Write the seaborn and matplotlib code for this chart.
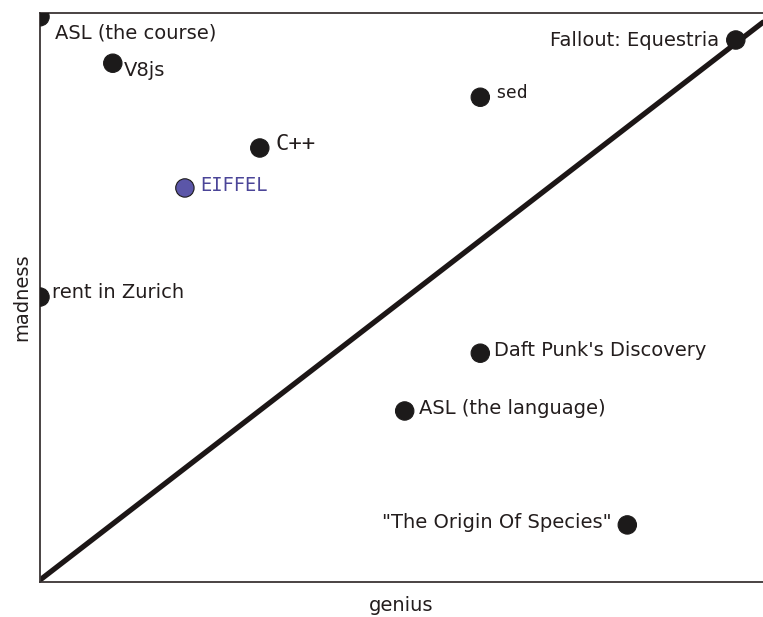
import pandas as pd
import matplotlib.pyplot as plt
import seaborn as sns

names = ['ASL (the course)', 'V8js', 'sed', 'C++', 'EIFFEL', 'rent in Zurich',
         "Daft Punk's Discovery", 'ASL (the language)', '"The Origin Of Species"',
         'Fallout: Equestria']
genius = [0.0, 0.104, 0.629, 0.314, 0.207, 0.0, 0.629, 0.521, 0.839, 0.994]
madness = [1.043, 0.957, 0.894, 0.800, 0.726, 0.524, 0.420, 0.313, 0.102, 1.0]

df = pd.DataFrame({'name': names, 'genius': genius, 'madness': madness})
df['group'] = ['blue' if n == 'EIFFEL' else 'black' for n in names]

sns.set_theme(style="white")
plt.rcParams['font.family'] = ['DejaVu Sans']

fig = plt.figure(figsize=(7.63, 6.17), dpi=100)
ax = fig.add_axes([40 / 763, 35 / 617, 723 / 763, 569 / 617])
ax.set_xlim(0, 723 / 700)
ax.set_ylim(-2 / 540, 567 / 540)

ax.axline((0, 0), slope=1, color='#1c1616', lw=3.8, zorder=2)

sns.scatterplot(data=df, x='genius', y='madness', hue='group',
                palette={'black': '#1c1a1a', 'blue': '#5b56a8'},
                edgecolor='#1c1a1a', linewidth=0.8, s=175, legend=False,
                ax=ax, zorder=3)

# label offsets in points (dx, dy, ha)
offsets = {
    'ASL (the course)': (11, -12, 'left'),
    'V8js': (8, -5, 'left'),
    'sed': (11, 3, 'left'),
    'C++': (11, 3, 'left'),
    'EIFFEL': (11, 2, 'left'),
    'rent in Zurich': (9, 3, 'left'),
    "Daft Punk's Discovery": (10, 2, 'left'),
    'ASL (the language)': (10, 2, 'left'),
    '"The Origin Of Species"': (-11, 2, 'right'),
    'Fallout: Equestria': (-12, 0, 'right'),
}
for _, r in df.iterrows():
    dx, dy, ha = offsets[r['name']]
    kw = dict(fontsize=14, color='#231d1d')
    if r['name'] == 'sed':
        kw['family'] = 'DejaVu Sans Mono'
        kw['fontsize'] = 13
    if r['name'] == 'C++':
        kw['family'] = 'DejaVu Sans Mono'
        kw['fontsize'] = 16
    if r['name'] == 'EIFFEL':
        kw['color'] = '#4b4598'
        kw['family'] = 'DejaVu Sans Mono'
        kw['fontsize'] = 13.5
    ax.annotate(r['name'], (r['genius'], r['madness']), xytext=(dx, dy),
                textcoords='offset points', ha=ha, va='center', **kw)

ax.set_xticks([])
ax.set_yticks([])
ax.set_xlabel('genius', fontsize=14, color='#231d1d', labelpad=10)
ax.set_ylabel('madness', fontsize=14, color='#231d1d', labelpad=6)
for side in ['left', 'bottom', 'top']:
    ax.spines[side].set_color('#3a3434')
    ax.spines[side].set_linewidth(1.3)
ax.spines['right'].set_visible(False)

fig.savefig('out.png', dpi=100)
